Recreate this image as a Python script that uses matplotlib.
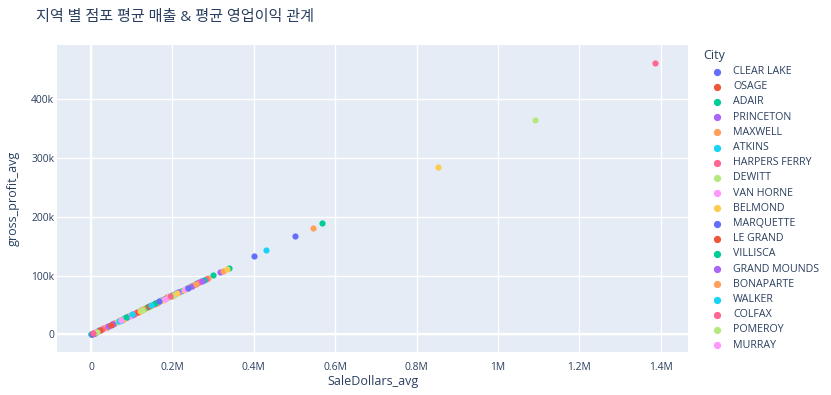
import numpy as np
import matplotlib
matplotlib.use("Agg")
import matplotlib.pyplot as plt
from matplotlib.lines import Line2D
from matplotlib.ticker import FuncFormatter

plt.rcParams['font.family'] = ['Open Sans', 'Noto Sans CJK KR', 'DejaVu Sans']

# one point per city: average sale dollars and average gross profit (thousands of $)
cities = [
    "CLEAR LAKE", "OSAGE", "ADAIR", "PRINCETON", "MAXWELL", "ATKINS", "HARPERS FERRY",
    "DEWITT", "VAN HORNE", "BELMOND", "MARQUETTE", "LE GRAND", "VILLISCA", "GRAND MOUNDS",
    "BONAPARTE", "WALKER", "COLFAX", "POMEROY", "MURRAY",
    "ADEL", "AFTON", "AKRON", "ALBIA", "ALGONA", "ALTOONA", "AMES", "DES MOINES",
    "CEDAR RAPIDS", "ANAMOSA", "DAVENPORT", "ANKENY", "ATLANTIC", "AUDUBON", "BETTENDORF",
    "WEST DES MOINES", "IOWA CITY", "BOONE", "BURLINGTON", "CARROLL", "CEDAR FALLS",
    "SIOUX CITY", "CENTERVILLE", "COUNCIL BLUFFS", "CHARITON", "CHARLES CITY", "CHEROKEE",
    "CLARINDA", "CLARION", "CLINTON", "CLIVE", "CORALVILLE", "CORNING", "CORYDON", "CRESCO",
    "CRESTON", "DECORAH", "DENISON", "DUBUQUE", "DYERSVILLE", "ELDORA", "ELKADER",
    "EMMETSBURG", "ESTHERVILLE", "FAIRFIELD", "FOREST CITY", "FORT DODGE", "FORT MADISON",
    "GLENWOOD", "GREENFIELD", "GRINNELL", "GRUNDY CENTER", "GUTHRIE CENTER", "HAMPTON",
    "HARLAN", "HUMBOLDT", "IDA GROVE", "INDEPENDENCE", "INDIANOLA", "IOWA FALLS",
    "JEFFERSON", "JOHNSTON", "KEOKUK", "KNOXVILLE", "LE MARS", "LOGAN", "MANCHESTER",
    "MAQUOKETA", "MARENGO", "MARION", "MARSHALLTOWN", "MASON CITY", "MOUNT PLEASANT",
    "MOUNT VERNON", "MUSCATINE", "NEVADA", "NEW HAMPTON", "NEWTON", "NORTH LIBERTY",
    "NORWALK", "OELWEIN", "ONAWA", "ORANGE CITY", "OSCEOLA", "OSKALOOSA", "OTTUMWA",
    "PELLA", "PERRY", "RED OAK", "ROCK RAPIDS", "SAC CITY", "SHELDON", "SHENANDOAH",
    "SIBLEY", "SIOUX CENTER", "SPENCER", "SPIRIT LAKE", "STORM LAKE", "TIPTON", "TOLEDO",
    "URBANDALE",
]
sale_k = [
    52.0, 4.5, 1.2, 12.0, 78.0, 0.8, 30.0, 60.0, 33.0, 150.0,
    122.0, 3.0, 222.0, 18.0, 92.0, 173.0, 98.0, 131.0, 24.0, 140.0,
    9.0, 105.0, 301.0, 317.0, 288.0, 270.0, 1386.0, 1091.0, 26.0, 853.0,
    401.0, 160.0, 338.0, 210.0, 545.0, 429.0, 283.0, 126.0, 15.0, 228.0,
    502.0, 40.0, 568.0, 84.0, 325.0, 255.0, 188.0, 66.0, 217.0, 36.0,
    260.0, 7.0, 235.0, 112.0, 198.0, 245.0, 57.0, 118.0, 45.0, 335.0,
    88.0, 200.0, 20.0, 165.0, 71.0, 193.0, 108.0, 145.0, 232.0, 133.0,
    180.0, 115.0, 75.0, 100.0, 242.0, 207.0, 155.0, 63.0, 170.0, 250.0,
    214.0, 185.0, 137.0, 55.0, 162.0, 82.0, 265.0, 203.0, 95.0, 176.0,
    2.2, 143.0, 278.0, 248.0, 38.0, 68.0, 28.0, 190.0, 10.5, 80.0,
    238.0, 22.0, 158.0, 42.0, 128.0, 102.0, 195.0, 14.0, 73.0, 120.0,
    168.0, 50.0, 86.0, 272.0, 258.0, 148.0, 5.5, 125.0, 182.0, 212.0,
]
profit_k = [
    17.3, 1.5, 0.4, 4.0, 26.1, 0.27, 10.0, 20.1, 11.0, 50.1,
    40.6, 1.0, 74.2, 6.0, 30.6, 57.7, 32.7, 43.6, 8.0, 46.7,
    3.0, 35.0, 100.4, 105.6, 96.1, 90.0, 462.0, 364.5, 8.7, 284.6,
    133.5, 53.4, 112.8, 70.0, 181.5, 143.2, 94.3, 42.0, 5.0, 76.1,
    167.3, 13.3, 189.4, 28.0, 108.4, 85.0, 62.7, 22.0, 72.4, 12.0,
    86.7, 2.3, 78.4, 37.3, 66.0, 81.7, 19.0, 39.4, 15.0, 111.7,
    29.3, 66.7, 6.7, 55.0, 23.7, 64.4, 36.0, 48.4, 77.3, 44.3,
    60.0, 38.4, 25.0, 33.4, 80.7, 69.0, 51.7, 21.0, 56.7, 83.4,
    71.3, 61.7, 45.7, 18.3, 54.0, 27.3, 88.4, 67.7, 31.7, 58.7,
    0.7, 47.7, 92.7, 82.7, 12.7, 22.7, 9.3, 63.4, 3.5, 26.7,
    79.4, 7.3, 52.7, 14.0, 42.7, 34.0, 65.0, 4.7, 24.3, 40.0,
    56.0, 16.7, 28.7, 90.7, 86.0, 49.4, 1.8, 41.7, 60.7, 70.7,
]
legend_shown = 19

palette = ["#636EFA", "#EF553B", "#00CC96", "#AB63FA", "#FFA15A",
           "#19D3F3", "#FF6692", "#B6E880", "#FF97FF", "#FECB52"]
txt = "#2a3f5f"

W, H = 831, 395
fig = plt.figure(figsize=(W / 100, H / 100), dpi=100)
L, R, T, B = 57, 688, 45, 352
ax = fig.add_axes([L / W, 1 - B / H, (R - L) / W, (B - T) / H])
ax.set_facecolor("#E5ECF6")
for s in ax.spines.values():
    s.set_visible(False)

for i, c in enumerate(cities):
    ax.scatter(sale_k[i] * 1000, profit_k[i] * 1000, s=20, color=palette[i % 10],
               linewidths=0, zorder=3)

ax.set_xlim(-83500, 1467000)
ax.set_ylim(-30000, 492000)
ax.set_xticks([0, 200000, 400000, 600000, 800000, 1000000, 1200000, 1400000])
ax.set_yticks([0, 100000, 200000, 300000, 400000])


def fmt_x(v, p):
    if v == 0:
        return "0"
    return "%gM" % (v / 1e6)


def fmt_y(v, p):
    if v == 0:
        return "0"
    return "%gk" % (v / 1000)


ax.xaxis.set_major_formatter(FuncFormatter(fmt_x))
ax.yaxis.set_major_formatter(FuncFormatter(fmt_y))
ax.grid(True, color="white", linewidth=1.0, zorder=1)
ax.set_axisbelow(True)
ax.axhline(0, color="white", linewidth=1.6, zorder=2)
ax.axvline(0, color="white", linewidth=1.6, zorder=2)
ax.tick_params(length=0, labelsize=7.4, labelcolor=txt)
ax.tick_params(axis="x", pad=7)
ax.tick_params(axis="y", pad=2)

fig.text((L + R) / 2 / W, 1 - 382 / H, "SaleDollars_avg", ha="center", va="center",
         fontsize=9, color=txt)
fig.text(13 / W, 1 - (T + B) / 2 / H, "gross_profit_avg", ha="center", va="center",
         rotation=90, fontsize=9, color=txt)
fig.text(36 / W, 1 - 18 / H, "지역 별 점포 평균 매출 & 평균 영업이익 관계", ha="left",
         va="center", fontsize=10.9, color=txt)

# legend (only the first entries fit, like the original)
fig.text(703 / W, 1 - 56 / H, "City", ha="left", va="center", fontsize=9, color=txt)
for i in range(legend_shown):
    yy = 1 - (71.5 + i * 15.2) / H
    fig.add_artist(Line2D([717 / W], [yy], transform=fig.transFigure, marker="o",
                          markersize=4.2, color=palette[i % 10], linestyle="none"))
    fig.text(733 / W, yy, cities[i], ha="left", va="center", fontsize=7.7, color=txt)

fig.savefig("out.png", dpi=100)
